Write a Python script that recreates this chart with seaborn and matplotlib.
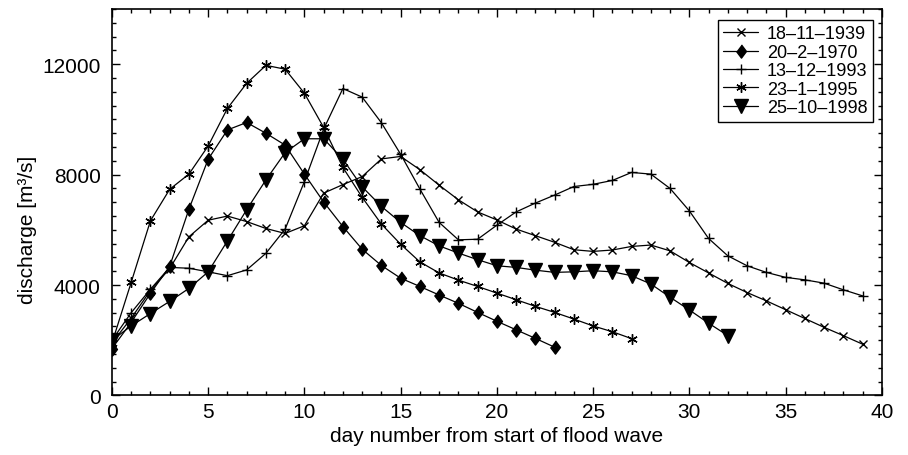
import matplotlib
matplotlib.use("Agg")
import matplotlib.pyplot as plt
from matplotlib.ticker import MultipleLocator
import seaborn as sns

# Daily discharge of five flood waves, counted from the start of each wave
days_1939 = list(range(40))
q_1939 = [1900, 2800, 3800, 4600, 5750, 6350, 6500, 6300, 6050, 5870,
          6150, 7330, 7640, 7930, 8570, 8660, 8180, 7620, 7090, 6650,
          6360, 6030, 5790, 5550, 5280, 5220, 5270, 5400, 5450, 5240,
          4820, 4440, 4060, 3730, 3430, 3110, 2790, 2470, 2170, 1860]

days_1970 = list(range(24))
q_1970 = [1700, 2650, 3700, 4680, 6750, 8560, 9620, 9890, 9500, 9070,
          8020, 7010, 6120, 5300, 4710, 4250, 3950, 3640, 3340, 3010,
          2690, 2380, 2070, 1750]

days_1993 = list(range(40))
q_1993 = [2000, 3000, 3850, 4640, 4610, 4480, 4340, 4550, 5150, 6030,
          7750, 9650, 11120, 10810, 9880, 8740, 7480, 6270, 5640, 5660,
          6170, 6650, 6970, 7260, 7570, 7650, 7790, 8080, 8020, 7500,
          6690, 5690, 5060, 4700, 4460, 4280, 4190, 4070, 3830, 3610]

days_1995 = list(range(28))
q_1995 = [1900, 4100, 6330, 7470, 8020, 9040, 10400, 11310, 11960, 11820,
          10950, 9710, 8260, 7180, 6210, 5480, 4840, 4440, 4180, 3950,
          3710, 3470, 3230, 3010, 2770, 2520, 2310, 2060]

days_1998 = list(range(33))
q_1998 = [2000, 2520, 2970, 3410, 3880, 4480, 5600, 6730, 7810, 8800,
          9300, 9300, 8560, 7560, 6850, 6270, 5790, 5420, 5160, 4920,
          4700, 4640, 4540, 4460, 4480, 4520, 4480, 4340, 4040, 3560,
          3100, 2620, 2170]

labels = ["18–11–1939", "20–2–1970", "13–12–1993", "23–1–1995", "25–10–1998"]

sns.set_theme(style="ticks")
plt.rcParams["font.family"] = ["Liberation Sans", "DejaVu Sans"]
plt.rcParams["text.color"] = "black"
plt.rcParams["axes.labelcolor"] = "black"

fig = plt.figure(figsize=(9.08, 4.56), dpi=100)
ax = fig.add_axes([0.1233, 0.1305, 0.9711 - 0.1233, 0.978 - 0.1305])

diamond = [(0, 1), (0.75, 0), (0, -1), (-0.75, 0)]
styles = [
    dict(marker="x", markersize=5.5),
    dict(marker=diamond, markersize=9.5),
    dict(marker="+", markersize=7.5),
    dict(marker=(6, 2, 0), markersize=7.5),
    dict(marker="v", markersize=9.5),
]
series = [(days_1939, q_1939), (days_1970, q_1970), (days_1993, q_1993),
          (days_1995, q_1995), (days_1998, q_1998)]

for (d, q), lab, st in zip(series, labels, styles):
    sns.lineplot(x=d, y=q, ax=ax, color="black", linewidth=0.9,
                 markeredgecolor="black", markerfacecolor="black",
                 markeredgewidth=1.0, label=lab, **st)

ax.set_xlim(0, 40)
ax.set_ylim(0, 14000)
ax.xaxis.set_major_locator(MultipleLocator(5))
ax.xaxis.set_minor_locator(MultipleLocator(1))
ax.yaxis.set_major_locator(MultipleLocator(4000))
ax.yaxis.set_minor_locator(MultipleLocator(500))
ax.tick_params(which="both", direction="in", top=True, right=True,
               colors="black", labelcolor="black", labelsize=15, width=1.0)
ax.tick_params(which="major", length=6)
ax.tick_params(which="minor", length=3)
ax.tick_params(axis="y", which="major", pad=8)
ax.tick_params(axis="x", which="major", pad=5)
for sp in ax.spines.values():
    sp.set_visible(True)
    sp.set_color("black")
    sp.set_linewidth(1.2)

ax.set_xlabel("day number from start of flood wave", fontsize=15, labelpad=3)
ax.set_ylabel("discharge [m³/s]", fontsize=15)
ax.yaxis.set_label_coords(-0.098, 0.43)

leg = ax.legend(loc="upper right", bbox_to_anchor=(0.993, 0.981),
                fontsize=13, frameon=True, fancybox=False,
                framealpha=1, edgecolor="black", handlelength=1.9,
                handletextpad=0.5, labelspacing=0.08, borderpad=0.3,
                borderaxespad=0.2)
leg.get_frame().set_linewidth(1.0)

fig.savefig("out.png", dpi=100)
